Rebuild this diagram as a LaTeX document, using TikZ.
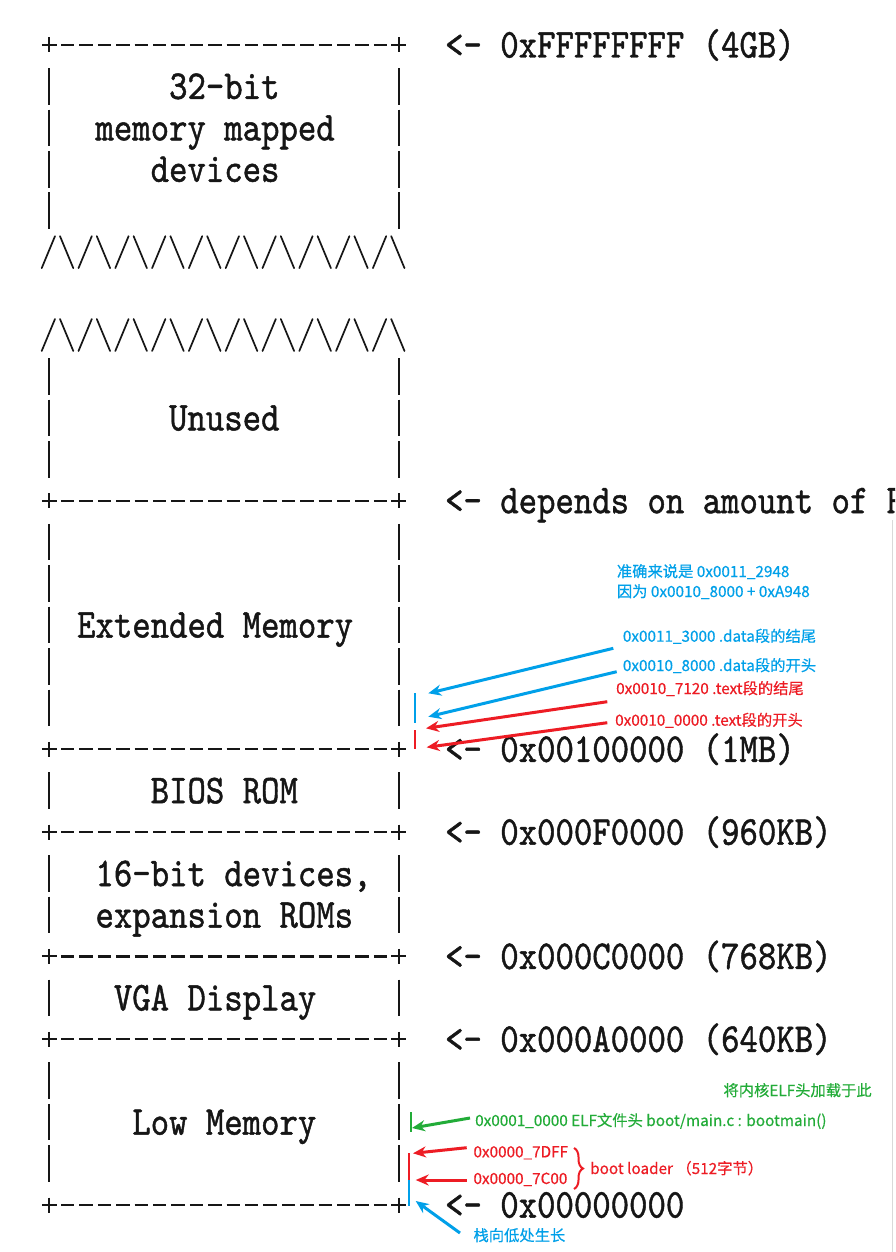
\documentclass[tikz,border=0pt]{standalone}
\usepackage{fontspec}
\usepackage{graphicx}
\newfontfamily\cjk{Noto Sans CJK SC}[FakeBold=0.5]
\newfontfamily\monoft{lmmono10-regular}[Extension=.otf, FakeBold=1.2]
\usetikzlibrary{arrows.meta,decorations.pathreplacing}
\definecolor{cblue}{RGB}{0,160,233}
\definecolor{cred}{RGB}{237,28,36}
\definecolor{cgreen}{RGB}{34,172,56}
\definecolor{ink}{RGB}{22,22,22}
\newcommand\rowy[1]{(45+41.43*(#1))}
\newcommand\colx[1]{(40.1+18.4*(#1))}
\newcommand\mt[1]{\scalebox{1}[1.17]{#1}}
\tikzset{
  asciiline/.style={draw=ink, line width=2.3pt},
  asciiplus/.style={draw=ink, line width=2pt},
  asciizig/.style={draw=ink, line width=1.7pt, line cap=round},
  mono/.style={inner sep=0pt, anchor=base west, text=ink, font=\fontsize{35.05}{40}\monoft},
  note/.style={inner sep=0pt, anchor=base west, font=\fontsize{15.3}{18}\cjk},
  markbar/.style={line width=2.6pt},
  arr/.style={line width=3pt, -{Stealth[length=13pt,width=11pt]}},
}
\begin{document}
\begin{tikzpicture}[x=1pt,y=-1pt]
\useasboundingbox (0,0) rectangle (895,1252);
\fill[white] (0,0) rectangle (895,1252);
\clip (0,0) rectangle (895,1252);

% faint screenshot edge
\draw[black!15, line width=0.8pt] (892.5,520) -- (892.5,1252);

% horizontal frame lines  +------------------+
\foreach \r in {0,11,17,19,22,24,28}{
  \draw[asciiline, dash pattern=on 13.4pt off 5pt]
    ({\colx{1}+2.5},{\rowy{\r}}) -- ({\colx{19}-2.5},{\rowy{\r}});
  \foreach \c in {0,19}{
    \draw[asciiplus] ({\colx{\c}+9.2-7.5},{\rowy{\r}}) -- ({\colx{\c}+9.2+7.5},{\rowy{\r}})
                     ({\colx{\c}+9.2},{\rowy{\r}-7.5}) -- ({\colx{\c}+9.2},{\rowy{\r}+7.5});
  }
}
% vertical bars |
\foreach \r in {1,2,3,4,8,9,10,12,13,14,15,16,18,20,21,23,25,26,27}{
  \foreach \c in {0,19}{
    \draw[asciiline] ({\colx{\c}+9.2},{\rowy{\r}-18.3}) -- ({\colx{\c}+9.2},{\rowy{\r}+18.3});
  }
}
% zigzags /\/\/\
\foreach \r in {5,7}{
  \foreach \k in {0,...,9}{
    \draw[asciizig] ({\colx{2*\k}+1.6},{\rowy{\r}+16}) -- ({\colx{2*\k}+14.9},{\rowy{\r}-16});
    \draw[asciizig] ({\colx{2*\k+1}+1.5},{\rowy{\r}-16}) -- ({\colx{2*\k+1}+14.8},{\rowy{\r}+16});
  }
}

% region labels
\node[mono] (l32a) at ({\colx{7}},{\rowy{1}+12.5}) {\mt{32-bit}};
\node[mono] (l32b) at ({\colx{3}},{\rowy{2}+12.5}) {\mt{memory mapped}};
\node[mono] (l32c) at ({\colx{6}},{\rowy{3}+12.5}) {\mt{devices}};
\node[mono] (lun) at ({\colx{7}},{\rowy{9}+12.5}) {\mt{Unused}};
\node[mono] (lext) at ({\colx{2}},{\rowy{14}+12.5}) {\mt{Extended Memory}};
\node[mono] (lbios) at ({\colx{6}},{\rowy{18}+12.5}) {\mt{BIOS ROM}};
\node[mono] (l16a) at ({\colx{3}},{\rowy{20}+12.5}) {\mt{16-bit devices,}};
\node[mono] (l16b) at ({\colx{3}},{\rowy{21}+12.5}) {\mt{expansion ROMs}};
\node[mono] (lvga) at ({\colx{4}},{\rowy{23}+12.5}) {\mt{VGA Display}};
\node[mono] (llow) at ({\colx{5}},{\rowy{26}+12.5}) {\mt{Low Memory}};

% address labels
\node[mono] (a4g) at ({\colx{22}},{\rowy{0}+12.5}) {\mt{<- 0xFFFFFFFF (4GB)}};
\node[mono] (aram) at ({\colx{22}},{\rowy{11}+12.5}) {\mt{<- depends on amount of RAM}};
\node[mono] (a1m) at ({\colx{22}},{\rowy{17}+12.5}) {\mt{<- 0x00100000 (1MB)}};
\node[mono] (a960) at ({\colx{22}},{\rowy{19}+12.5}) {\mt{<- 0x000F0000 (960KB)}};
\node[mono] (a768) at ({\colx{22}},{\rowy{22}+12.5}) {\mt{<- 0x000C0000 (768KB)}};
\node[mono] (a640) at ({\colx{22}},{\rowy{24}+12.5}) {\mt{<- 0x000A0000 (640KB)}};
\node[mono] (a0) at ({\colx{22}},{\rowy{28}+12.5}) {\mt{<- 0x00000000}};

% annotations, kernel area
\node[note, text=cblue] (n1) at (616.7,577) {准确来说是 0x0011\_2948};
\node[note, text=cblue] (n2) at (616.7,597) {因为 0x0010\_8000 + 0xA948};
\node[note, text=cblue] (n3) at (622.7,641.7) {0x0011\_3000 .data段的结尾};
\node[note, text=cblue] (n4) at (622.7,671) {0x0010\_8000 .data段的开头};
\node[note, text=cred] (n5) at (616,694) {0x0010\_7120 .text段的结尾};
\node[note, text=cred] (n6) at (615,725.7) {0x0010\_0000 .text段的开头};

\coordinate (dtop) at (415,693.3);
\coordinate (dbot) at (415,722.7);
\coordinate (ttop) at (415,730);
\coordinate (tbot) at (415,749.3);
\draw[markbar, cblue] (dtop) -- (dbot);
\draw[markbar, cred] (ttop) -- (tbot);

\coordinate (s1) at (613.3,648.3); \coordinate (e1) at (428.3,693.3);
\coordinate (s2) at (616.7,671.7); \coordinate (e2) at (428.3,716.7);
\coordinate (s3) at (607.3,701.7); \coordinate (e3) at (426,728.3);
\coordinate (s4) at (607.3,722.7); \coordinate (e4) at (426.7,747.3);
\draw[arr, cblue] (s1) -- (e1);
\draw[arr, cblue] (s2) -- (e2);
\draw[arr, cred] (s3) -- (e3);
\draw[arr, cred] (s4) -- (e4);

% annotations, low memory
\node[note, text=cgreen] (n7) at (723.3,1096) {将内核ELF头加载于此};
\node[note, text=cgreen] (n8) at (475,1126) {0x0001\_0000 ELF文件头 boot/main.c : bootmain()};
\node[note, text=cred] (n9) at (473.3,1157.3) {0x0000\_7DFF};
\node[note, text=cred] (n10) at (473.3,1184) {0x0000\_7C00};
\node[note, text=cred] (n11) at (590,1174) {boot loader （512字节）};
\node[note, text=cblue] (n12) at (473.3,1241) {栈向低处生长};

\coordinate (gtop) at (411,1112);
\coordinate (gbot) at (411,1132);
\coordinate (btop) at (409,1153);
\coordinate (bmid) at (409,1180);
\coordinate (bbot) at (409,1206);
\draw[markbar, cgreen] (gtop) -- (gbot);
\draw[markbar, cred] (btop) -- (bmid);
\draw[markbar, cblue] (bmid) -- (bbot);

\coordinate (s5) at (470,1118); \coordinate (e5) at (412,1128);
\coordinate (s6) at (466.7,1147.7); \coordinate (e6) at (413,1153.3);
\coordinate (s7) at (466.7,1180); \coordinate (e7) at (415.7,1180);
\coordinate (s8) at (460,1233); \coordinate (e8) at (415.7,1201);
\draw[arr, cgreen] (s5) -- (e5);
\draw[arr, cred] (s6) -- (e6);
\draw[arr, cred] (s7) -- (e7);
\draw[arr, cblue] (s8) -- (e8);

\coordinate (br1) at (574,1148);
\coordinate (br2) at (574,1189);
\draw[cred, line width=2pt, decorate, decoration={brace, amplitude=9pt}] (br1) -- (br2);
\end{tikzpicture}
\end{document}
